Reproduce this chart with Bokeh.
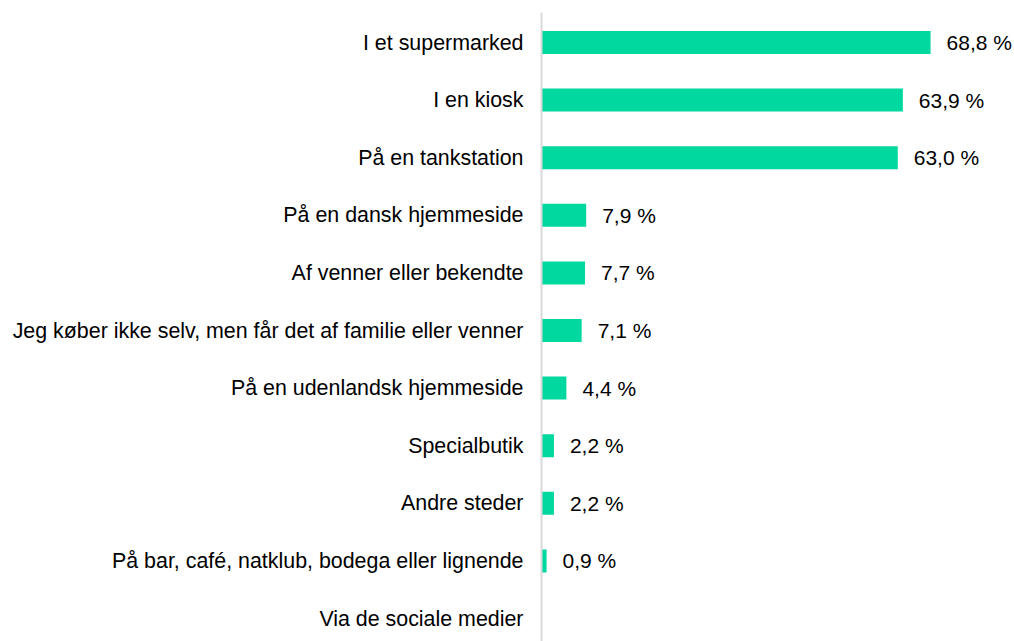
from bokeh.plotting import figure
from bokeh.models import Range1d, FixedTicker, ColumnDataSource
from bokeh.core.properties import value
from bokeh.embed import file_html
from bokeh.resources import INLINE

categories = [
    "I et supermarked",
    "I en kiosk",
    "På en tankstation",
    "På en dansk hjemmeside",
    "Af venner eller bekendte",
    "Jeg køber ikke selv, men får det af familie eller venner",
    "På en udenlandsk hjemmeside",
    "Specialbutik",
    "Andre steder",
    "På bar, café, natklub, bodega eller lignende",
    "Via de sociale medier",
]
values = [68.8, 63.9, 63.0, 7.9, 7.7, 7.1, 4.4, 2.2, 2.2, 0.9, 0.0]

FONT = "Liberation Sans"
GREEN = "#00D8A0"

ypos = list(range(len(categories)))
labels = [("%.1f %%" % v).replace(".", ",") if v > 0 else "" for v in values]

src = ColumnDataSource(dict(y=ypos, v=values, lab=labels))

W, H = 1014, 641
LEFT, TOP = 541, 12
PXX = 5.655
PXY = 57.6
x_end = (W - LEFT) / PXX
y_top = -30.0 / PXY
y_bot = y_top + (H - TOP) / PXY

p = figure(width=W, height=H, output_backend="svg", toolbar_location=None,
           x_range=Range1d(0, x_end), y_range=Range1d(y_bot, y_top),
           min_border_left=LEFT, min_border_top=TOP, min_border_bottom=0, min_border_right=0)

p.hbar(y="y", left=0, right="v", height=0.4, source=src, color=GREEN, line_color=None)
p.text(x="v", y="y", text="lab", source=src, x_offset=16, text_align="left",
       text_baseline="middle", text_font=value(FONT), text_font_size="21px", text_color="#000000")

p.xaxis.visible = False
p.xgrid.visible = False
p.ygrid.visible = False
p.outline_line_color = None

ax = p.yaxis[0]
ax.ticker = FixedTicker(ticks=ypos)
ax.major_label_overrides = {i: c for i, c in enumerate(categories)}
ax.major_tick_line_color = None
ax.minor_tick_line_color = None
ax.major_tick_out = 0
ax.major_tick_in = 0
ax.major_label_standoff = 18
ax.axis_line_color = "#D9D9D9"
ax.axis_line_width = 2
ax.major_label_text_font = FONT
ax.major_label_text_font_size = "21.4px"
ax.major_label_text_color = "#000000"

open("out.html", "w").write(file_html(p, INLINE))
